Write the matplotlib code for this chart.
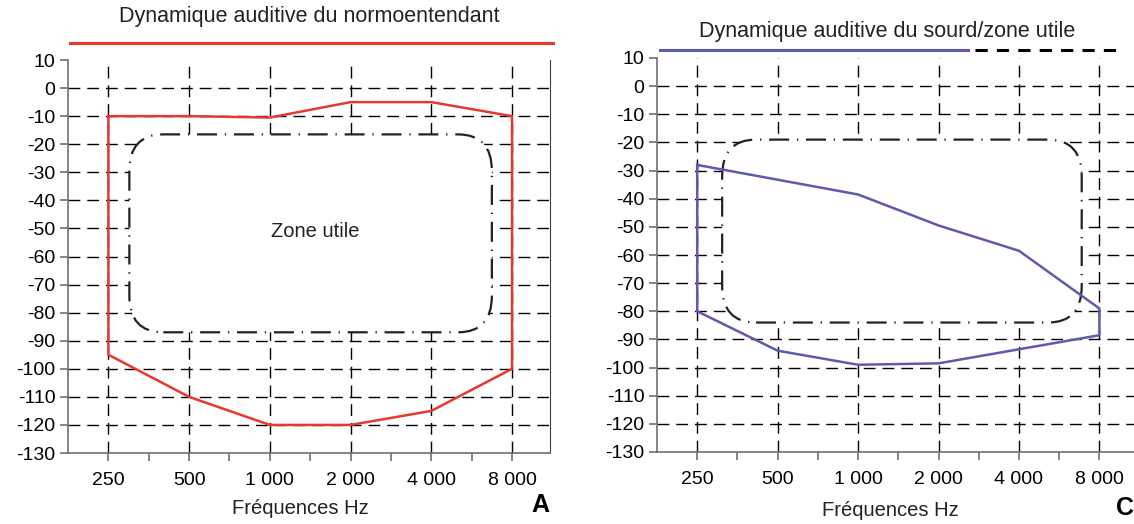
import numpy as np
import matplotlib.pyplot as plt
from matplotlib.patches import FancyBboxPatch

plt.rcParams['font.family'] = ['Liberation Sans', 'DejaVu Sans']

freq_labels = ['250', '500', '1 000', '2 000', '4 000', '8 000']
db_ticks = list(range(10, -140, -10))

# panel A : normo-entendant (x = index in freq_labels)
normo_top_x = [0, 1, 2, 3, 4, 5]
normo_top_db = [-10, -10, -10.5, -5, -5, -10]
normo_bot_x = [5, 4, 3, 2, 1, 0]
normo_bot_db = [-100, -115, -120, -120, -110, -95]

# panel C : sourd
sourd_top_x = [0, 2, 3, 4, 5]
sourd_top_db = [-28, -38.5, -49.5, -58.5, -79]
sourd_bot_x = [5, 4, 3, 2, 1, 0]
sourd_bot_db = [-88.5, -93.5, -98.5, -99, -94, -80]

# zone utile : x left, x right, dB top, dB bottom
zone_a = (0.26, 4.75, -16.5, -87)
zone_c = (0.31, 4.78, -19, -84)

red = '#e8382e'
blue = '#5c5cae'
grey = '#707070'
grid_dash = (0, (8.5, 5))


def setup(ax, xmax, right_spine):
    ax.set_xlim(-0.5, xmax)
    ax.set_ylim(-130, 10)
    for y in db_ticks[1:-1]:
        ax.axhline(y, color='black', lw=1.0, ls=grid_dash, zorder=1)
    for x in range(len(freq_labels)):
        ax.axvline(x, color='black', lw=1.0, ls=grid_dash, zorder=1)
    ax.set_xticks(range(len(freq_labels)))
    ax.set_xticklabels(freq_labels, fontsize=14)
    ax.set_xticks(np.arange(0.5, 5, 1), minor=True)
    ax.set_yticks(db_ticks)
    ax.set_yticklabels([str(v) for v in db_ticks], fontsize=14)
    ax.tick_params(axis='both', which='both', color=grey, length=6, width=1.2)
    ax.tick_params(axis='x', pad=8)
    ax.tick_params(axis='y', pad=3)
    ax.spines['top'].set_visible(False)
    ax.spines['right'].set_visible(right_spine)
    ax.spines['right'].set_color('#404040')
    for s in ['left', 'bottom']:
        ax.spines[s].set_color(grey)
        ax.spines[s].set_linewidth(1.2)


def zone(ax, z):
    x0, x1, ytop, ybot = z
    box = FancyBboxPatch((x0, ybot), x1 - x0, ytop - ybot,
                         boxstyle='round,pad=0,rounding_size=0.42',
                         mutation_aspect=13 / 0.42,
                         fc='white', ec='#222222', lw=1.6,
                         ls=(0, (9, 3.5, 0.6, 3.5)), zorder=2)
    ax.add_patch(box)


fig = plt.figure(figsize=(11.34, 5.24), dpi=100)

axA = fig.add_axes([68 / 1134, 1 - 453 / 524, 482 / 1134, 393 / 524])
setup(axA, 5.47, True)
zone(axA, zone_a)
xs = normo_top_x + normo_bot_x + normo_top_x[:1]
ys = normo_top_db + normo_bot_db + normo_top_db[:1]
axA.plot(xs, ys, color=red, lw=1.8, zorder=3)
axA.text(2.56, -51, 'Zone utile', fontsize=14.5, ha='center', va='center', color='#222222', zorder=4)
axA.plot([0.004, 1.006], [1.043, 1.043], color=red, lw=2.2,
         transform=axA.transAxes, clip_on=False)
axA.text(0.5, 1.11, 'Dynamique auditive du normoentendant', fontsize=15.5,
         ha='center', va='center', transform=axA.transAxes, color='#222222')

axC = fig.add_axes([657 / 1134, 1 - 452 / 524, 477 / 1134, 394 / 524])
setup(axC, 5.43, False)
zone(axC, zone_c)
xs = sourd_top_x + sourd_bot_x + sourd_top_x[:1]
ys = sourd_top_db + sourd_bot_db + sourd_top_db[:1]
axC.plot(xs, ys, color=blue, lw=1.8, zorder=3)
axC.plot([0.006, 0.652], [1.02, 1.02], color=blue, lw=2.2,
         transform=axC.transAxes, clip_on=False)
axC.plot([0.667, 0.97], [1.02, 1.02], color='black', lw=2.2, ls=(0, (4, 3)),
         transform=axC.transAxes, clip_on=False)
axC.text(0.482, 1.066, 'Dynamique auditive du sourd/zone utile', fontsize=15.5,
         ha='center', va='center', transform=axC.transAxes, color='#222222')

fig.text(300 / 1134, 1 - 508 / 524, 'Fréquences Hz', fontsize=14.5, ha='center', va='center', color='#222222')
fig.text(890 / 1134, 1 - 510 / 524, 'Fréquences Hz', fontsize=14.5, ha='center', va='center', color='#222222')
fig.text(540 / 1134, 1 - 505 / 524, 'A', fontsize=18, fontweight='bold', ha='center', va='center')
fig.text(1125 / 1134, 1 - 508 / 524, 'C', fontsize=18, fontweight='bold', ha='center', va='center')

fig.savefig('out.png', dpi=100)
